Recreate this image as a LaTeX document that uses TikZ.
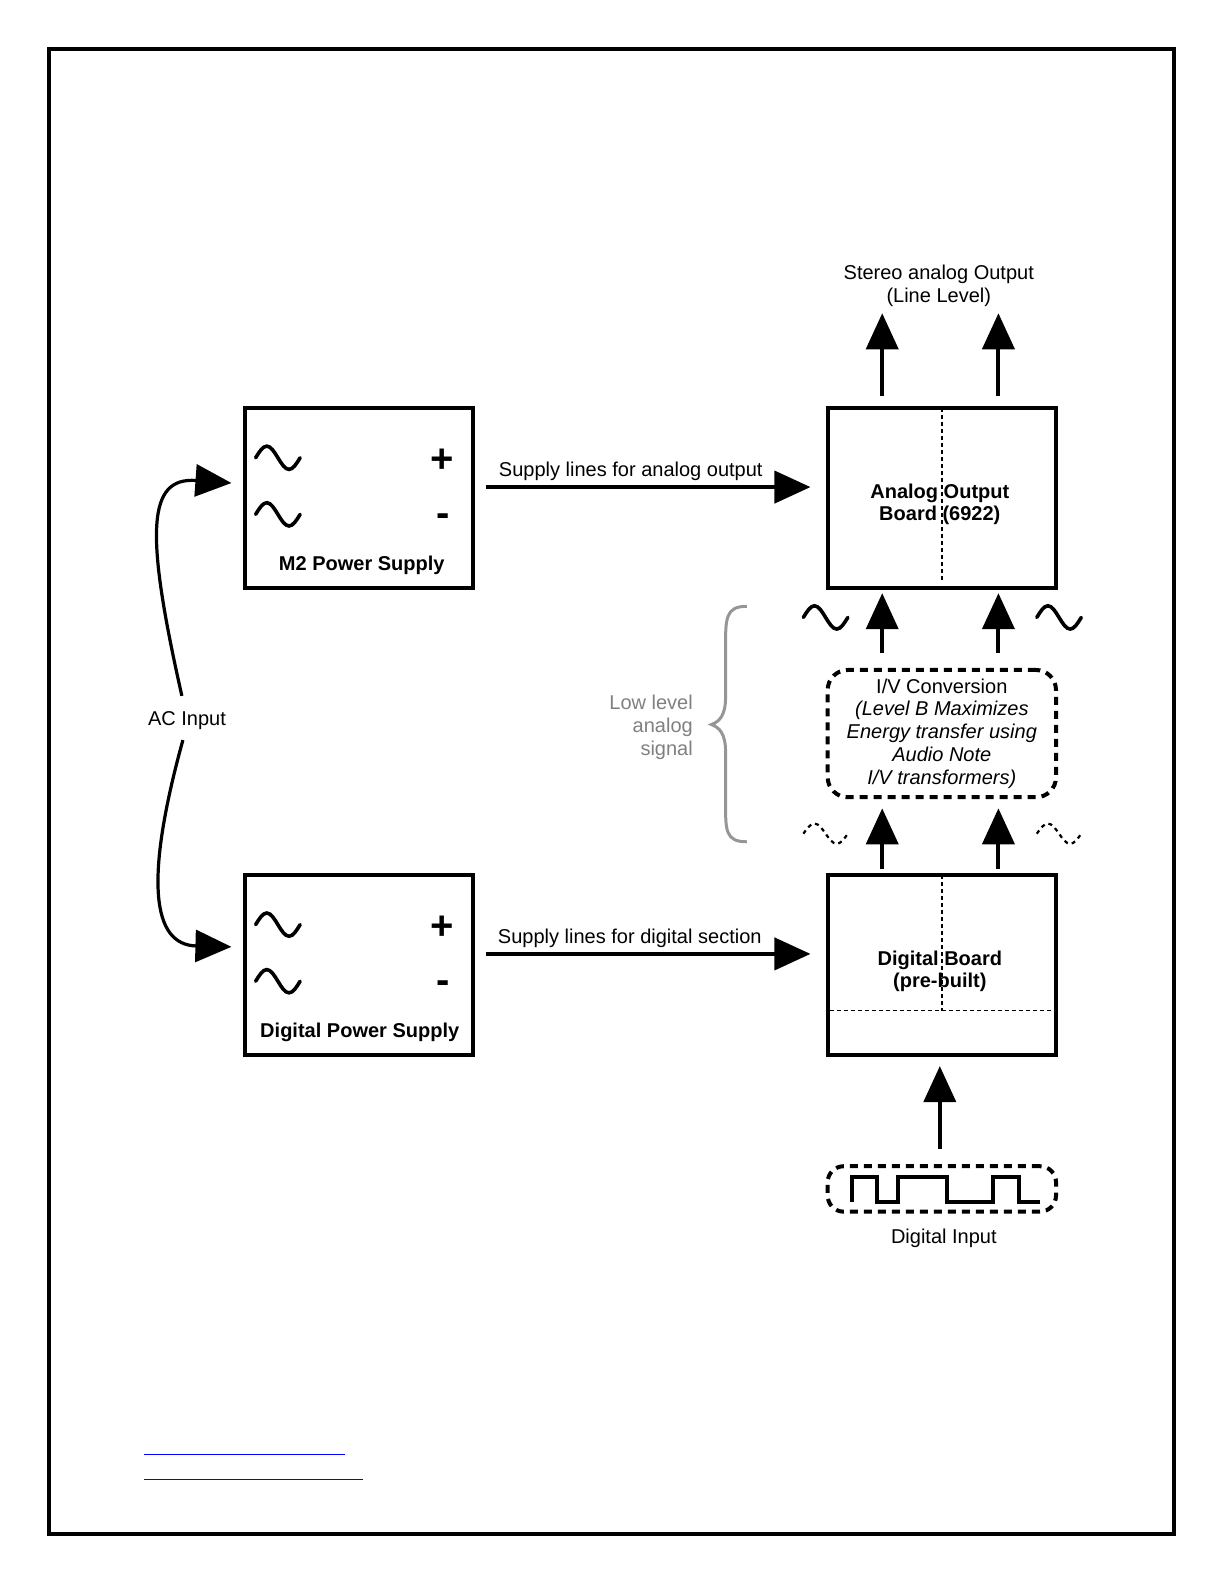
\documentclass[tikz,border=0pt]{standalone}
\usepackage{fontspec}
\setmainfont{Liberation Sans}
\usetikzlibrary{arrows.meta, positioning, calc}

\definecolor{notegray}{RGB}{128,128,128}
\definecolor{bracegray}{RGB}{150,150,150}
\definecolor{linkblue}{RGB}{0,0,255}

\tikzset{
    psbox/.style={draw, line width=2pt, minimum width=114.1pt, minimum height=89.9pt, inner sep=0pt, outer sep=0pt},
    ivbox/.style={draw, line width=2pt, rounded corners=10pt, dash pattern=on 4pt off 3pt,
        minimum width=114.1pt, inner sep=0pt, outer sep=0pt, align=center, font=\fontsize{10}{11.4}\selectfont},
    txt/.style={inner sep=0pt, align=center, font=\fontsize{10}{11.5}\selectfont},
    boldtxt/.style={txt, font=\fontsize{10}{11.2}\selectfont\bfseries},
    pmsign/.style={inner sep=0pt, font=\fontsize{20}{22}\selectfont\bfseries},
    bigarrow/.style={line width=2pt, -{Triangle[length=18pt,width=16pt]}},
    acarrow/.style={line width=1.6pt, -{Triangle[length=18pt,width=16pt]}},
    boardline/.style={line width=0.9pt, dash pattern=on 2pt off 1.5pt},
    acwave/.pic={\draw[line width=1.8pt, line cap=round] (-22,0) sin (-11,-11.5) cos (0,0) sin (11,11.5) cos (22,0);},
    dotwave/.pic={\draw[line width=1.1pt, dash pattern=on 2pt off 2pt] (-22,0) sin (-11,-10) cos (0,0) sin (11,10) cos (22,0);},
}

\begin{document}
\begin{tikzpicture}[x=0.505pt, y=-0.505pt]
    \useasboundingbox (0,0) rectangle (1212.3,1568.5);
    % page frame
    \draw[line width=2pt] (48.5,48.5) rectangle (1161.5,1518);

    % supplies and boards
    \node[psbox] (m2) at (355,493) {};
    \node[psbox, below=143.4pt of m2] (dps) {};
    \node[psbox, right=177.3pt of m2] (aob) {};
    \node[psbox, right=177.3pt of dps] (db) {};
    \node[ivbox, minimum height=63.6pt, above=38.9pt of db] (iv) {I/V Conversion\\
        \textit{(Level B Maximizes}\\\textit{Energy transfer using}\\\textit{Audio Note}\\\textit{I/V transformers)}};
    \node[ivbox, rounded corners=8pt, minimum height=22.7pt, below=55.6pt of db] (dib) {};

    % power supply contents
    \pic at (275,453) {acwave};
    \pic at (275,509) {acwave};
    \node[pmsign] (m2plus) at (438,456) {+};
    \node[pmsign] (m2minus) at (439,515) {-};
    \node[boldtxt] (m2name) at (358,559) {M2 Power Supply};
    \pic at (275,915) {acwave};
    \pic at (275,971) {acwave};
    \node[pmsign] (dpsplus) at (438,918) {+};
    \node[pmsign] (dpsminus) at (439,977) {-};
    \node[boldtxt] (dpsname) at (356,1022) {Digital Power Supply};

    % board contents
    \draw[boardline] (aob.north) -- ($(aob.south)+(0,-5)$);
    \node[boldtxt] (aoblab) at ($(aob.center)+(-2,6)$) {Analog Output\\Board (6922)};
    \draw[boardline] (db.north) -- ($(db.south)+(0,-44)$);
    \draw[boardline] ($(db.south west)+(2,-44)$) -- ($(db.south east)+(-2,-44)$);
    \node[boldtxt] (dblab) at ($(db.center)+(-2,6)$) {Digital Board\\(pre-built)};

    % AC input
    \node[txt] (ac) at (185,713) {AC Input};
    \draw[acarrow] ($(ac.north)+(-5,-15)$) .. controls (143,525) and (146,472) .. ($(m2.west)+(-13,-15)$);
    \draw[acarrow] ($(ac.south)+(-4,10)$) .. controls (143,870) and (150,935) .. ($(dps.west)+(-13,-18)$);

    % supply lines
    \draw[bigarrow] ($(m2.east)+(13,-11)$) -- node[txt, pos=0.446, above=2pt] (salab) {Supply lines for analog output} ($(aob.west)+(-17,-11)$);
    \draw[bigarrow] ($(dps.east)+(13,-11)$) -- node[txt, pos=0.443, above=2pt] (sdlab) {Supply lines for digital section} ($(db.west)+(-17,-11)$);

    % signal path
    \coordinate (outL) at ($(aob.north)+(-59,-94)$);
    \coordinate (outR) at ($(aob.north)+(56,-94)$);
    \draw[bigarrow] ($(aob.north)+(-59,-12)$) -- (outL);
    \draw[bigarrow] ($(aob.north)+(56,-12)$) -- (outR);
    \node[txt] (stereo) at (929,283) {Stereo analog Output\\(Line Level)};
    \draw[bigarrow] ($(iv.north)+(-59,-17)$) -- ($(aob.south)+(-59,5)$);
    \draw[bigarrow] ($(iv.north)+(56,-17)$) -- ($(aob.south)+(56,5)$);
    \draw[bigarrow] ($(db.north)+(-59,-6)$) -- ($(iv.south)+(-59,11)$);
    \draw[bigarrow] ($(db.north)+(56,-6)$) -- ($(iv.south)+(56,11)$);
    \pic at (817,611) {acwave};
    \pic at (1048,611) {acwave};
    \pic at (817,825) {dotwave};
    \pic at (1048,825) {dotwave};

    % low level note
    \node[txt, align=right, anchor=east, text=notegray] (low) at (686,720) {Low level\\analog\\signal};
    \draw[bracegray, line width=1.5pt] (739,600) .. controls (718,600) and (718,612) .. (718,640) -- (718,690)
        .. controls (718,708) and (712,714) .. (704,717) .. controls (712,720) and (718,726) .. (718,744)
        -- (718,795) .. controls (718,822) and (718,833) .. (739,833);

    % digital input
    \draw[bigarrow] ($(dib.north)+(-2,-17)$) -- ($(db.south)+(-2,11)$);
    \draw[line width=2pt] ($(dib.center)+(-89,13)$) -- ++(0,-25) -- ++(25,0) -- ++(0,25) -- ++(21,0)
        -- ++(0,-25) -- ++(48,0) -- ++(0,25) -- ++(46,0) -- ++(0,-25) -- ++(25,0) -- ++(0,25) -- ++(21,0);
    \node[txt] (dinlab) at (934,1225) {Digital Input};

    % link underlines
    \draw[linkblue, line width=0.6pt] (142.5,1439) -- (341.5,1439);
    \draw[linkblue, line width=0.6pt] (142.5,1464) -- (359.5,1464);
\end{tikzpicture}
\end{document}
